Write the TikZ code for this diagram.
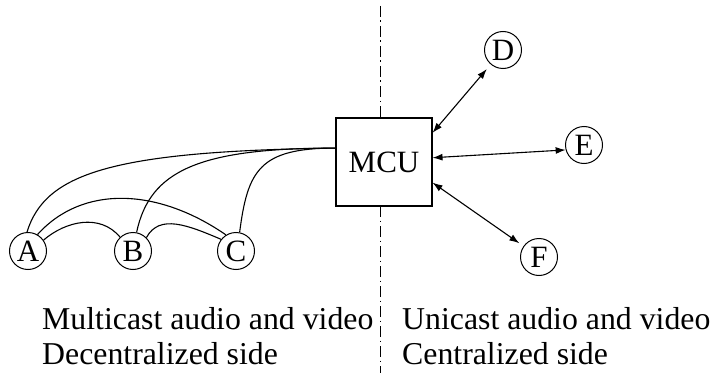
\documentclass[tikz,border=0pt]{standalone}
\usepackage{fontspec}
\setmainfont{Liberation Serif}
\usepackage{tikz}
\usetikzlibrary{arrows.meta,positioning,calc}
\tikzset{
    station/.style={circle,draw,line width=1pt,inner sep=0pt,minimum size=37pt},
    mcu box/.style={rectangle,draw,fill=white,line width=1.1pt,minimum width=96pt,minimum height=88pt,inner sep=0pt},
    link/.style={line width=1.1pt},
    darr/.style={<->,>={Latex[length=10pt,width=7pt]},line width=1.1pt},
    divider/.style={line width=0.8pt,dash pattern=on 11pt off 3.5pt on 1.5pt off 4pt},
    caption/.style={anchor=base west,inner sep=0pt,font=\fontsize{31.8pt}{35pt}\selectfont},
}
\tikzstyle{every node}=[font=\fontsize{31pt}{35pt}\selectfont]

\begin{document}
\begin{tikzpicture}[x=1pt,y=1pt]
        \useasboundingbox (0,0) rectangle (717,373);

        % dividing line between the two sides
        \coordinate (top) at (380,367);
        \coordinate (bottom) at (380,0);
        \draw[divider] (top) -- (bottom);

        \node[mcu box] (mcu) at (384,211) {MCU};

        \node[station] (a) at (28,122) {A};
        \node[station] (b) at (133,122) {B};
        \node[station] (c) at (236,122) {C};
        \node[station] (d) at (503,323) {D};
        \node[station] (e) at (584,228) {E};
        \node[station] (f) at (539,116) {F};

        % multicast side
        \draw[link] (a.93) .. controls +(18,58) and +(-226,-3) .. (mcu.164);
        \draw[link] (b.79) .. controls +(13,62) and +(-136,0) .. (mcu.164);
        \draw[link] (c.79) .. controls +(8,62) and +(-76,0) .. (mcu.164);
        \draw[link] (a.35) .. controls +(22,19) and +(-20,24) .. (b.133);
        \draw[link] (b.45) .. controls +(13,24) and +(-33,14) .. (c.142);
        \draw[link] (a.60) .. controls +(45,50) and +(-68,47) .. (c.122);

        % unicast side
        \draw[darr,shorten >=6pt] (mcu.31) -- (d);
        \draw[darr] (mcu.5) -- (e.195);
        \draw[darr,shorten >=5pt] (mcu.-23) -- (f);

        \node[caption] (multicast) at (42,44) {Multicast audio and video};
        \node[caption] (decentral) at (42,9) {Decentralized side};
        \node[caption] (unicast) at (402,44) {Unicast audio and video};
        \node[caption] (central) at (402,9) {Centralized side};
    \end{tikzpicture}
\end{document}
